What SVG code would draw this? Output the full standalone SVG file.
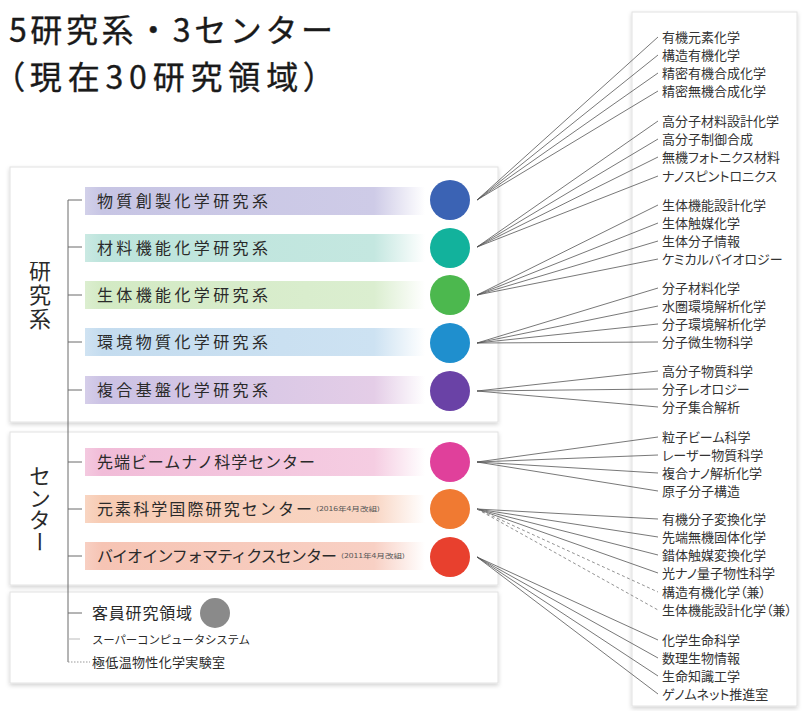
<svg xmlns="http://www.w3.org/2000/svg" width="803" height="711" viewBox="0 0 803 711">
<defs>
<style>
text{font-family:"Noto Sans CJK JP","Noto Sans",sans-serif;fill:#2a2a2a}
.title{font-size:32px;fill:#1a1a1a;stroke:#1a1a1a;stroke-width:0.35}
.palt{font-feature-settings:"palt"}
.bar{font-size:16px}
.item{font-size:13px;font-feature-settings:"palt";fill:#333}
.vert{font-size:22px;writing-mode:vertical-rl}
.note{font-size:6px;fill:#555}
.panel{fill:#fff;stroke:#e2e2e2;stroke-width:1}
.tree{stroke:#6a6a6a;stroke-width:1;fill:none}
.conn line{stroke:#555;stroke-width:0.8}
.conn .dash{stroke-dasharray:3 2.5;stroke:#777}
</style>
<filter id="sh" x="-5%" y="-5%" width="110%" height="115%">
<feGaussianBlur in="SourceAlpha" stdDeviation="2"/>
<feOffset dy="2" result="b"/>
<feFlood flood-color="#000" flood-opacity="0.18"/>
<feComposite in2="b" operator="in"/>
<feMerge><feMergeNode/><feMergeNode in="SourceGraphic"/></feMerge>
</filter>
<linearGradient id="g1"><stop offset="0" stop-color="#c7c5e4" stop-opacity="0.8"/><stop offset="0.05" stop-color="#c7c5e4"/><stop offset="0.85" stop-color="#cecbe7"/><stop offset="1" stop-color="#cecbe7" stop-opacity="0"/></linearGradient>
<linearGradient id="g2"><stop offset="0" stop-color="#bde4dc" stop-opacity="0.8"/><stop offset="0.05" stop-color="#bde4dc"/><stop offset="0.85" stop-color="#c4e7e0"/><stop offset="1" stop-color="#c4e7e0" stop-opacity="0"/></linearGradient>
<linearGradient id="g3"><stop offset="0" stop-color="#d3eac4" stop-opacity="0.8"/><stop offset="0.05" stop-color="#d3eac4"/><stop offset="0.85" stop-color="#dbeed0"/><stop offset="1" stop-color="#dbeed0" stop-opacity="0"/></linearGradient>
<linearGradient id="g4"><stop offset="0" stop-color="#c4dcef" stop-opacity="0.8"/><stop offset="0.05" stop-color="#c4dcef"/><stop offset="0.85" stop-color="#cde2f2"/><stop offset="1" stop-color="#cde2f2" stop-opacity="0"/></linearGradient>
<linearGradient id="g5"><stop offset="0" stop-color="#cbc2e4" stop-opacity="0.8"/><stop offset="0.05" stop-color="#cbc2e4"/><stop offset="0.85" stop-color="#e4cde7"/><stop offset="1" stop-color="#e4cde7" stop-opacity="0"/></linearGradient>
<linearGradient id="g6"><stop offset="0" stop-color="#f1bcd8" stop-opacity="0.8"/><stop offset="0.05" stop-color="#f1bcd8"/><stop offset="0.85" stop-color="#f5cde2"/><stop offset="1" stop-color="#f5cde2" stop-opacity="0"/></linearGradient>
<linearGradient id="g7"><stop offset="0" stop-color="#f7cbb3" stop-opacity="0.8"/><stop offset="0.05" stop-color="#f7cbb3"/><stop offset="0.85" stop-color="#f9d6c4"/><stop offset="1" stop-color="#f9d6c4" stop-opacity="0"/></linearGradient>
<linearGradient id="g8"><stop offset="0" stop-color="#f6c4b4" stop-opacity="0.8"/><stop offset="0.05" stop-color="#f6c4b4"/><stop offset="0.85" stop-color="#f8d0c4"/><stop offset="1" stop-color="#f8d0c4" stop-opacity="0"/></linearGradient>
</defs>
<rect width="803" height="711" fill="#fff"/>

<g id="title">
<text class="title" x="9" y="42" textLength="324" lengthAdjust="spacing">5研究系・3センター</text>
<text class="title palt" x="8" y="89" textLength="312" lengthAdjust="spacing">（現在30研究領域）</text>
</g>

<g id="panels">
<rect class="panel" x="10" y="167" width="488" height="255" filter="url(#sh)"/>
<rect class="panel" x="10" y="432" width="488" height="153" filter="url(#sh)"/>
<rect class="panel" x="10" y="592" width="488" height="91" filter="url(#sh)"/>
<rect class="panel" x="632" y="12" width="165" height="694" filter="url(#sh)"/>
</g>

<g id="labels">
<text class="vert" x="40" y="260" letter-spacing="2">研究系</text>
<text class="vert" x="40" y="465">センター</text>
</g>

<g id="tree">
<path class="tree" d="M68 200V662M68 200H82M68 247H82M68 295H82M68 342H82M68 390H82M68 462H82M68 509H82M68 556H82M68 613H82"/>
<path d="M68 639H80" stroke="#bbb" stroke-width="1"/>
<path d="M68 662H90" stroke="#999" stroke-width="1" stroke-dasharray="1.5 1.5"/>
</g>

<g id="n1"><rect x="85" y="187" width="340" height="28" fill="url(#g1)"/><text class="bar" x="97" y="207" textLength="171" lengthAdjust="spacing">物質創製化学研究系</text><circle cx="450" cy="200" r="20" fill="#3b63b4"/></g>
<g id="n2"><rect x="85" y="234" width="340" height="28" fill="url(#g2)"/><text class="bar" x="97" y="254" textLength="171" lengthAdjust="spacing">材料機能化学研究系</text><circle cx="450" cy="248" r="20" fill="#12b29c"/></g>
<g id="n3"><rect x="85" y="281" width="340" height="28" fill="url(#g3)"/><text class="bar" x="97" y="301" textLength="171" lengthAdjust="spacing">生体機能化学研究系</text><circle cx="450" cy="295" r="20" fill="#4cb84e"/></g>
<g id="n4"><rect x="85" y="328" width="340" height="28" fill="url(#g4)"/><text class="bar" x="97" y="348" textLength="171" lengthAdjust="spacing">環境物質化学研究系</text><circle cx="450" cy="343" r="20" fill="#1f8fce"/></g>
<g id="n5"><rect x="85" y="376" width="340" height="28" fill="url(#g5)"/><text class="bar" x="97" y="396" textLength="171" lengthAdjust="spacing">複合基盤化学研究系</text><circle cx="450" cy="391" r="20" fill="#6a42a6"/></g>
<g id="n6"><rect x="85" y="448" width="340" height="28" fill="url(#g6)"/><text class="bar" x="97" y="468" textLength="218" lengthAdjust="spacing">先端ビームナノ科学センター</text><circle cx="450" cy="462" r="20" fill="#e0409b"/></g>
<g id="n7"><rect x="85" y="495" width="340" height="28" fill="url(#g7)"/><text class="bar" x="97" y="515" textLength="215" lengthAdjust="spacing">元素科学国際研究センター</text><text class="note" x="316" y="511" textLength="64" lengthAdjust="spacingAndGlyphs">(2016年4月改組)</text><circle cx="450" cy="509" r="20" fill="#f07a32"/></g>
<g id="n8"><rect x="85" y="542" width="340" height="28" fill="url(#g8)"/><text class="bar" x="97" y="562" textLength="240" lengthAdjust="spacing">バイオインフォマティクスセンター</text><text class="note" x="341" y="558" textLength="64" lengthAdjust="spacingAndGlyphs">(2011年4月改組)</text><circle cx="450" cy="557" r="20" fill="#e8402e"/></g>
<g id="n9"><text class="bar" x="92" y="619" textLength="100" lengthAdjust="spacing">客員研究領域</text><circle cx="215" cy="613" r="15" fill="#8a8a8a"/></g>
<g id="n10"><text x="92" y="644" font-size="11.5" fill="#666" textLength="158" lengthAdjust="spacing">スーパーコンピュータシステム</text></g>
<g id="n11"><text x="92" y="667" font-size="13" fill="#444" textLength="133" lengthAdjust="spacing">極低温物性化学実験室</text></g>

<g id="connectors" class="conn">
<line x1="477" y1="200" x2="658" y2="37"/>
<line x1="477" y1="200" x2="658" y2="55"/>
<line x1="477" y1="200" x2="658" y2="73"/>
<line x1="477" y1="200" x2="658" y2="91"/>
<line x1="477" y1="247" x2="658" y2="121"/>
<line x1="477" y1="247" x2="658" y2="139"/>
<line x1="477" y1="247" x2="658" y2="157"/>
<line x1="477" y1="247" x2="658" y2="176"/>
<line x1="477" y1="295" x2="658" y2="205"/>
<line x1="477" y1="295" x2="658" y2="223"/>
<line x1="477" y1="295" x2="658" y2="241"/>
<line x1="477" y1="295" x2="658" y2="259"/>
<line x1="477" y1="343" x2="658" y2="288"/>
<line x1="477" y1="343" x2="658" y2="306"/>
<line x1="477" y1="343" x2="658" y2="324"/>
<line x1="477" y1="343" x2="658" y2="342"/>
<line x1="477" y1="391" x2="658" y2="371"/>
<line x1="477" y1="391" x2="658" y2="389"/>
<line x1="477" y1="391" x2="658" y2="407"/>
<line x1="477" y1="462" x2="658" y2="437"/>
<line x1="477" y1="462" x2="658" y2="455"/>
<line x1="477" y1="462" x2="658" y2="473"/>
<line x1="477" y1="462" x2="658" y2="491"/>
<line x1="477" y1="509" x2="658" y2="519"/>
<line x1="477" y1="509" x2="658" y2="537"/>
<line x1="477" y1="509" x2="658" y2="555"/>
<line x1="477" y1="509" x2="658" y2="573"/>
<line class="dash" x1="477" y1="509" x2="658" y2="592"/>
<line class="dash" x1="477" y1="509" x2="658" y2="610"/>
<line x1="477" y1="557" x2="658" y2="640"/>
<line x1="477" y1="557" x2="658" y2="658"/>
<line x1="477" y1="557" x2="658" y2="676"/>
<line x1="477" y1="557" x2="658" y2="694"/>
</g>

<g id="list">
<text class="item" x="662" y="42">有機元素化学</text>
<text class="item" x="662" y="60">構造有機化学</text>
<text class="item" x="662" y="78">精密有機合成化学</text>
<text class="item" x="662" y="96">精密無機合成化学</text>
<text class="item" x="662" y="126">高分子材料設計化学</text>
<text class="item" x="662" y="144">高分子制御合成</text>
<text class="item" x="662" y="162">無機フォトニクス材料</text>
<text class="item" x="662" y="181">ナノスピントロニクス</text>
<text class="item" x="662" y="210">生体機能設計化学</text>
<text class="item" x="662" y="228">生体触媒化学</text>
<text class="item" x="662" y="246">生体分子情報</text>
<text class="item" x="662" y="264">ケミカルバイオロジー</text>
<text class="item" x="662" y="293">分子材料化学</text>
<text class="item" x="662" y="311">水圏環境解析化学</text>
<text class="item" x="662" y="329">分子環境解析化学</text>
<text class="item" x="662" y="347">分子微生物科学</text>
<text class="item" x="662" y="376">高分子物質科学</text>
<text class="item" x="662" y="394">分子レオロジー</text>
<text class="item" x="662" y="412">分子集合解析</text>
<text class="item" x="662" y="442">粒子ビーム科学</text>
<text class="item" x="662" y="460">レーザー物質科学</text>
<text class="item" x="662" y="478">複合ナノ解析化学</text>
<text class="item" x="662" y="496">原子分子構造</text>
<text class="item" x="662" y="524">有機分子変換化学</text>
<text class="item" x="662" y="542">先端無機固体化学</text>
<text class="item" x="662" y="560">錯体触媒変換化学</text>
<text class="item" x="662" y="578">光ナノ量子物性科学</text>
<text class="item" x="662" y="597">構造有機化学（兼）</text>
<text class="item" x="662" y="615">生体機能設計化学（兼）</text>
<text class="item" x="662" y="645">化学生命科学</text>
<text class="item" x="662" y="663">数理生物情報</text>
<text class="item" x="662" y="681">生命知識工学</text>
<text class="item" x="662" y="699">ゲノムネット推進室</text>
</g>
</svg>
